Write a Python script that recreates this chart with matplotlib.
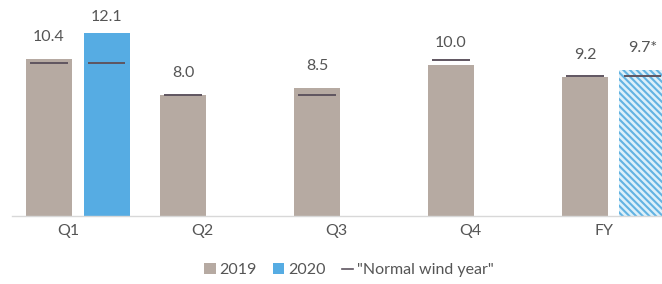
import matplotlib
matplotlib.use("Agg")
import matplotlib.pyplot as plt
from matplotlib.patches import Patch
from matplotlib.lines import Line2D

categories = ["Q1", "Q2", "Q3", "Q4", "FY"]
values_2019 = [10.4, 8.0, 8.5, 10.0, 9.2]
labels_2019 = ["10.4", "8.0", "8.5", "10.0", "9.2"]
normal_2019 = [10.1, 8.0, 8.0, 10.3, 9.25]
# 2020 only has Q1 and a full-year estimate
idx_2020 = [0, 4]
values_2020 = [12.1, 9.7]
labels_2020 = ["12.1", "9.7*"]
normal_2020 = [10.1, 9.3]

GREY = "#b6aaa2"
BLUE = "#56ace3"
HATCH_BLUE = "#62b3e2"
LINE = "#5f5560"
TEXT = "#555555"

plt.rcParams["font.family"] = ["Lato", "DejaVu Sans"]
plt.rcParams["hatch.linewidth"] = 1.5

fig = plt.figure(figsize=(6.62, 2.84), dpi=100)
# pixel layout: ticks at 68 + 134*i, baseline at y=216
ax = fig.add_axes([12 / 662, 68 / 284, 650 / 662, 216 / 284])
ax.set_xlim((12 - 68) / 134, (662 - 68) / 134)
ax.set_ylim(0, 216 / 15.1)

width = 46 / 134
off19 = -19 / 134
off20 = 38.5 / 134
lw_frac = 0.82

x19 = [i + off19 for i in range(len(categories))]
ax.bar(x19, values_2019, width=width, color=GREY, linewidth=0)
for i, xi in enumerate(idx_2020):
    x = xi + off20
    if categories[xi] == "FY":
        ax.bar(x, values_2020[i], width=width, facecolor="#dcf0fa",
               edgecolor=HATCH_BLUE, hatch="\\" * 5, linewidth=0)
    else:
        ax.bar(x, values_2020[i], width=width, color=BLUE, linewidth=0)

# "normal wind year" markers
for x, n in zip(x19, normal_2019):
    ax.hlines(n, x - width * lw_frac / 2, x + width * lw_frac / 2, color=LINE, lw=1.4)
for i, xi in enumerate(idx_2020):
    x = xi + off20
    ax.hlines(normal_2020[i], x - width * lw_frac / 2, x + width * lw_frac / 2,
              color=LINE, lw=1.4)

cap = (216 - 17) / 15.1
pad = 22 / 15.1
for x, v, t in zip(x19, values_2019, labels_2019):
    ax.text(x, min(v + pad, cap), t, ha="center", va="center", fontsize=11.5, color=TEXT)
for i, xi in enumerate(idx_2020):
    ax.text(xi + off20, min(values_2020[i] + pad, cap), labels_2020[i],
            ha="center", va="center", fontsize=11.5, color=TEXT)

ax.set_xticks(range(len(categories)))
ax.set_xticklabels(categories, fontsize=11.5, color=TEXT)
ax.tick_params(axis="x", length=0, pad=6)
ax.set_yticks([])
for s in ["top", "right", "left"]:
    ax.spines[s].set_visible(False)
ax.spines["bottom"].set_color("#d8d8d8")
ax.spines["bottom"].set_linewidth(1.0)

handles = [
    Patch(facecolor=GREY, edgecolor="none"),
    Patch(facecolor=BLUE, edgecolor="none"),
    Line2D([0], [0], color=LINE, lw=1.2),
]
fig.legend(handles, ["2019", "2020", "\"Normal wind year\""], loc="center",
           bbox_to_anchor=(349 / 662, 1 - 270 / 284), ncol=3, frameon=False,
           fontsize=11.5, labelcolor=TEXT, handlelength=0.7, handleheight=0.7,
           handletextpad=0.25, columnspacing=1.0)

fig.savefig("out.png", dpi=100)
